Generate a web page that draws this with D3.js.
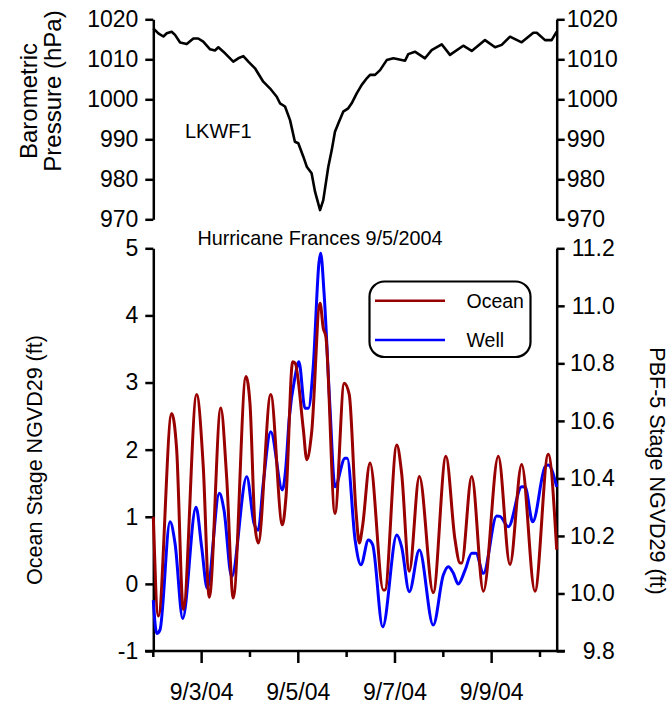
<!DOCTYPE html>
<html>
<head>
<meta charset="utf-8">
<script src="https://cdn.jsdelivr.net/npm/d3@7"></script>
<style>
  body { margin: 0; background: #fff; }
  text { font-family: "Liberation Sans", Arial, Helvetica, sans-serif; fill: #000; }
</style>
</head>
<body>
<svg id="chart" width="669" height="705"></svg>
<script>
// ---- data: hours since 2004-09-02 00:00 ----
const startTime = new Date(2004, 8, 2, 0, 0);
const endHours = 200.3;

const pressureHours = [0, 2.5, 5, 6.7, 9.1, 10.8, 13.3, 16.6, 19.9, 22.3, 24.8, 28.2, 30.6, 32.3, 34.8,
  39.7, 42.2, 44.7, 47.2, 50.5, 54.6, 57.9, 61.3, 62.9, 65.4, 67.9, 70.3, 72, 74.5, 76.2, 78.6, 80.3,
  82.8, 84.4, 86.9, 88.6, 90.2, 91.9, 94.3, 96.8, 98.5, 101, 103.5, 106, 107.6, 110.1, 112.6, 115.9,
  119.2, 121.6, 125, 126.6, 129.9, 134.9, 138.2, 143.2, 147.3, 153.9, 158.1, 164.7, 169.7, 173, 177.1,
  182.9, 188.7, 190.4, 194.5, 197.8, 200.3];
const pressureHpa = [1017.75, 1016.5, 1015.7, 1016.5, 1016.9, 1016.1, 1014.2, 1013.8, 1015.2, 1015.2, 1014.4,
  1012.5, 1012.2, 1013.0, 1011.9, 1009.4, 1010.25, 1010.8, 1009.4, 1007.75, 1004.4, 1002.75, 1000.65, 999,
  998.2, 994.8, 989.4, 989, 985.65, 983.15, 981.5, 976.9, 972.3, 974.8, 983.15, 987.3, 991.9, 994, 996.9,
  997.75, 999, 1001.5, 1003.6, 1005.25, 1006.1, 1006.1, 1007.3, 1009.8, 1010.25, 1010.0, 1009.65, 1011.3,
  1011.9, 1010.25, 1012.3, 1013.75, 1011.1, 1013.4, 1012.1, 1014.8, 1013.0, 1013.6, 1015.65, 1014.25,
  1016.65, 1016.65, 1014.8, 1014.8, 1016.9];

const oceanHours = [0, 2.5, 9.1, 11.6, 14.9, 21.5, 24.8, 27.8, 33.5, 36.4, 39.7, 46.0, 48.0, 50.5, 52.1,
  58.3, 64.1, 65.9, 69.2, 70.4, 74.5, 76.2, 78.6, 82.8, 84.4, 85.7, 90.2, 94.8, 97.3, 100.6, 102.3, 103.9,
  107.6, 114.2, 115.0, 120.9, 123.3, 127.1, 132.1, 139.0, 145.3, 149.8, 152.3, 153.1, 158.1, 163.9, 171.3,
  177.1, 182.9, 189.5, 196.1, 200.3];
const oceanFt = [1.0, -0.48, 2.54, 2.0, -0.38, 2.82, 1.75, -0.2, 2.62, 1.6, -0.21, 3.09, 2.69, 0.86, 0.61,
  2.82, 0.88, 1.30, 3.31, 3.29, 2.30, 1.85, 2.25, 4.18, 3.81, 3.68, 1.05, 2.99, 2.82, 1.10, 0.61, 0.86,
  1.80, -0.09, -0.09, 2.07, 1.65, 0.19, 1.60, -0.13, 1.90, 0.66, 0.31, 0.31, 1.60, -0.11, 1.90,
  0.29, 1.78, -0.11, 1.93, 0.51];

const wellHours = [0, 1.7, 3.3, 8.3, 10.8, 14.6, 21.2, 24.0, 26.8, 32.8, 35.1, 38.9, 46.4, 50.0, 52.1, 54.6,
  58.3, 64.1, 65.7, 67.5, 70.4, 72.3, 75.3, 77.0, 79.4, 82.3, 83.1, 84.8, 87.7, 90.2, 95.2, 96.3, 100.2,
  103.1, 106.8, 108.9, 113.9, 120.9, 123.3, 127.1, 132.1, 139.0, 144.0, 146.5, 149.0, 151.4, 154.8, 158.1,
  160.2, 163.9, 170.5, 172.1, 176.3, 182.9, 184.6, 188.4, 194.5, 196.1, 200.3];
const wellFt = [9.977, 9.861, 9.873, 10.249, 10.174, 9.913, 10.30, 10.162, 10.018, 10.348, 10.29, 10.058,
  10.406, 10.244, 10.22, 10.383, 10.562, 10.36, 10.43, 10.609, 10.754, 10.806, 10.644, 10.644, 10.788,
  11.153, 11.183, 11.043, 10.65, 10.371, 10.47, 10.47, 10.186, 10.10, 10.186, 10.17, 9.884, 10.203,
  10.162, 10.006, 10.151, 9.890, 10.064, 10.093, 10.07, 10.033, 10.081, 10.14, 10.14, 10.07, 10.269,
  10.268, 10.232, 10.371, 10.37, 10.249, 10.44, 10.447, 10.371];

const pressureTicks = [970, 980, 990, 1000, 1010, 1020];
const oceanTicks = [-1, 0, 1, 2, 3, 4, 5];
const wellTicks = [9.8, 10.0, 10.2, 10.4, 10.6, 10.8, 11.0, 11.2];
const seriesNames = ["Ocean", "Well"];
const seriesColors = ["#990000", "#0000ff"];

// ---- layout ----
const svg = d3.select("#chart");
const left = 153.3, right = 556.7;
const topPanel = { top: 19.3, bottom: 219.3 };
const botPanel = { top: 248.3, bottom: 651 };
const tickFont = 23;
const plain = d => String(d);

const atHour = h => new Date(startTime.getTime() + h * 3600e3);
const x = d3.scaleTime().domain([startTime, atHour(endHours)]).range([left, right]);
const yP = d3.scaleLinear().domain([970, 1020]).range([topPanel.bottom, topPanel.top]);
const yO = d3.scaleLinear().domain([-1, 5]).range([botPanel.bottom, botPanel.top]);
const yW = d3.scaleLinear().domain([9.8, 11.2]).range([botPanel.bottom, botPanel.top]);

function styleAxis(g, anchor) {
  g.selectAll(".domain").attr("stroke", "#000").attr("stroke-width", 2.5);
  g.selectAll(".tick line").attr("stroke", "#000").attr("stroke-width", 2.5);
  g.selectAll(".tick text").attr("font-size", tickFont).attr("fill", "#000")
    .attr("font-family", '"Liberation Sans", Arial, sans-serif');
  if (anchor) g.selectAll(".tick text").attr("text-anchor", anchor);
}

// ---- top panel: barometric pressure ----
svg.append("g").attr("transform", `translate(${left},0)`)
  .call(d3.axisLeft(yP).tickValues(pressureTicks).tickFormat(plain)
    .tickSize(8).tickSizeOuter(0).tickPadding(7))
  .call(g => styleAxis(g));
svg.append("g").attr("transform", `translate(${right},0)`)
  .call(d3.axisRight(yP).tickValues(pressureTicks).tickFormat(plain)
    .tickSize(8).tickSizeOuter(0).tickPadding(2))
  .call(g => styleAxis(g));

const pressureLine = d3.line().x((d, i) => x(atHour(pressureHours[i]))).y(d => yP(d));
svg.append("path").datum(pressureHpa)
  .attr("d", pressureLine).attr("fill", "none").attr("stroke", "#000")
  .attr("stroke-width", 2.6).attr("stroke-linejoin", "round");

svg.append("text").attr("x", 185).attr("y", 138).attr("font-size", 20).text("LKWF1");

// ---- bottom panel: ocean and well stage ----
svg.append("g").attr("transform", `translate(${left},0)`)
  .call(d3.axisLeft(yO).tickValues(oceanTicks).tickFormat(plain)
    .tickSize(8).tickSizeOuter(0).tickPadding(7))
  .call(g => styleAxis(g));
svg.append("g").attr("transform", `translate(${right},0)`)
  .call(d3.axisRight(yW).tickValues(wellTicks).tickSize(8).tickSizeOuter(0).tickPadding(50)
    .tickFormat(d3.format(".1f")))
  .call(g => styleAxis(g, "end"));

// time axis with daily ticks, labels every other day
const dayTicks = d3.timeDay.range(startTime, atHour(endHours));
const fmt = d3.timeFormat("%-m/%-d/%y");
const isMajor = d => d.getDate() % 2 === 1;
const xAxis = svg.append("g").attr("transform", `translate(0,${botPanel.bottom})`);
xAxis.append("line").attr("x1", 145).attr("x2", 565).attr("y1", 0).attr("y2", 0)
  .attr("stroke", "#000").attr("stroke-width", 2.5);
xAxis.selectAll("line.tick").data(dayTicks).join("line").attr("class", "tick")
  .attr("x1", d => x(d)).attr("x2", d => x(d))
  .attr("y1", 0).attr("y2", d => isMajor(d) ? 12 : 6)
  .attr("stroke", "#000").attr("stroke-width", 2.5);
xAxis.selectAll("text").data(dayTicks.filter(isMajor)).join("text")
  .attr("x", d => x(d)).attr("y", 49).attr("text-anchor", "middle")
  .attr("font-size", tickFont).text(d => fmt(d));

const oceanLine = d3.line().curve(d3.curveMonotoneX)
  .x((d, i) => x(atHour(oceanHours[i]))).y(d => yO(d));
const wellLine = d3.line().curve(d3.curveMonotoneX)
  .x((d, i) => x(atHour(wellHours[i]))).y(d => yW(d));

svg.append("path").datum(wellFt).attr("d", wellLine)
  .attr("fill", "none").attr("stroke", seriesColors[1]).attr("stroke-width", 3).attr("stroke-linejoin", "round");
svg.append("path").datum(oceanFt).attr("d", oceanLine)
  .attr("fill", "none").attr("stroke", seriesColors[0]).attr("stroke-width", 3).attr("stroke-linejoin", "round");

svg.append("text").attr("x", 320).attr("y", 245).attr("text-anchor", "middle")
  .attr("font-size", 19.8).text("Hurricane Frances 9/5/2004");

// legend
const legend = svg.append("g");
legend.append("rect").attr("x", 369.5).attr("y", 281.5).attr("width", 161).attr("height", 75.5)
  .attr("rx", 15).attr("ry", 15).attr("fill", "#fff").attr("stroke", "#000").attr("stroke-width", 2.2);
seriesNames.forEach((name, i) => {
  const ly = 300.7 + i * 39.3;
  legend.append("line").attr("x1", 375).attr("x2", 445).attr("y1", ly).attr("y2", ly)
    .attr("stroke", seriesColors[i]).attr("stroke-width", 2.6);
  legend.append("text").attr("x", 466.5).attr("y", ly + 7).attr("font-size", 19.5).text(name);
});

// axis titles
svg.append("text").attr("transform", "translate(37,101) rotate(-90)").attr("text-anchor", "middle")
  .attr("font-size", 24).text("Barometric");
svg.append("text").attr("transform", "translate(61,91) rotate(-90)").attr("text-anchor", "middle")
  .attr("font-size", 24).text("Pressure (hPa)");
svg.append("text").attr("transform", "translate(42,460) rotate(-90)").attr("text-anchor", "middle")
  .attr("font-size", 21.5).text("Ocean Stage NGVD29 (ft)");
svg.append("text").attr("transform", "translate(650,471) rotate(90)").attr("text-anchor", "middle")
  .attr("font-size", 21.5).text("PBF-5 Stage NGVD29 (ft)");
</script>
</body>
</html>
